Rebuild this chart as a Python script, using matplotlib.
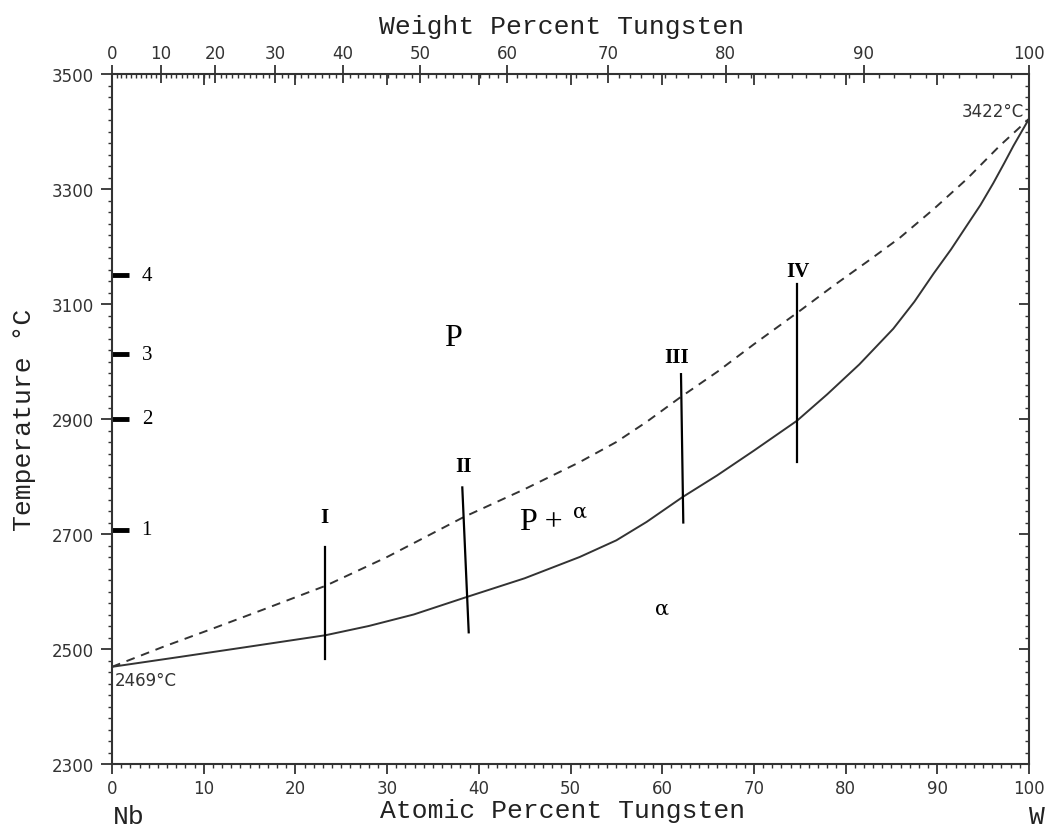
import numpy as np
import matplotlib
matplotlib.use('Agg')
import matplotlib.pyplot as plt
from matplotlib.ticker import MultipleLocator, FixedLocator, NullFormatter

# Nb-W phase diagram (atomic % W vs temperature)
liquidus_at = [0, 5.45, 10.9, 16.4, 23.3, 30, 38.3, 45, 51.0, 55, 58.3, 62.0, 66, 70, 75.0,
               78.7, 82.3, 85.9, 89.6, 93.2, 96.8, 100]
liquidus_T = [2469, 2503, 2535, 2568, 2610, 2660, 2729, 2778, 2825, 2860, 2895, 2938, 2982, 3030, 3088,
              3132, 3173, 3215, 3265, 3317, 3375, 3422]

solidus_at = [0, 7.3, 14.5, 23.3, 28, 32.9, 38.6, 45, 51.0, 55, 58.3, 62.2, 66, 70, 74.7,
              78, 81.5, 85.2, 87.5, 89.6, 91.5, 93.2, 94.7, 96.1, 97.3, 98.3, 99.2, 100]
solidus_T = [2469, 2486, 2503, 2524, 2540, 2560, 2590, 2623, 2660, 2689, 2721, 2764, 2802, 2845, 2897,
             2943, 2995, 3057, 3104, 3153, 3195, 3236, 3272, 3310, 3345, 3375, 3400, 3422]

# alloy compositions I-IV (vertical lines)
alloy_names = ['I', 'II', 'III', 'IV']
alloy_x_top = [23.2, 38.2, 62.05, 74.7]
alloy_x_bot = [23.2, 38.9, 62.3, 74.7]
alloy_T_top = [2677, 2781, 2978, 3135]
alloy_T_bot = [2483, 2529, 2720, 2825]
alloy_label_T = [2730, 2819, 3007, 3158]
alloy_label_x = [23.2, 38.3, 61.6, 74.8]

# temperature marks 1-4
mark_names = ['1', '2', '3', '4']
mark_T = [2707, 2900, 3013, 3150]

temp_ticks = [2300, 2500, 2700, 2900, 3100, 3300, 3500]

M_NB = 92.906
M_W = 183.84
wt_ticks = np.arange(0, 101, 10)
wt_minor = np.arange(0, 101, 1)


def wt_to_at(w):
    w = np.asarray(w, dtype=float)
    nw = w / M_W
    nnb = (100 - w) / M_NB
    return 100 * nw / (nw + nnb)


W, H = 1053, 828
fig = plt.figure(figsize=(W / 100, H / 100), dpi=100)
ax = fig.add_axes([112 / W, 1 - 765 / H, (1029 - 112) / W, (765 - 75) / H])

line_col = '#333333'
tick_font = dict(family='DejaVu Sans', size=12, color='#333333')

ax.plot(solidus_at, solidus_T, color=line_col, lw=1.4)
ax.plot(liquidus_at, liquidus_T, color=line_col, lw=1.4, linestyle=(0, (4.5, 3.5)))

for xt, xb, tt, tb in zip(alloy_x_top, alloy_x_bot, alloy_T_top, alloy_T_bot):
    ax.plot([xt, xb], [tt, tb], color='black', lw=1.6)
for name, x, t in zip(alloy_names, alloy_label_x, alloy_label_T):
    ax.text(x, t, name, ha='center', va='center', family='Liberation Serif',
            fontweight='bold', fontsize=15)

for name, t in zip(mark_names, mark_T):
    ax.plot([0, 1.9], [t, t], color='black', lw=3.5, solid_capstyle='butt', clip_on=False)
    ax.text(3.8, t, name, ha='center', va='center', family='Liberation Serif', fontsize=15)

ax.text(37.2, 3042, 'P', ha='center', va='center', family='Liberation Serif', fontsize=23)
ax.text(44.5, 2708, 'P + ', ha='left', va='baseline', family='Liberation Serif', fontsize=23)
ax.text(51.0, 2740, '\u03b1', ha='center', va='center', family='DejaVu Serif', fontsize=15)
ax.text(60.0, 2571, '\u03b1', ha='center', va='center', family='DejaVu Serif', fontsize=15)

ax.text(0.3, 2446, '2469\u00b0C', ha='left', va='center', **tick_font)
ax.text(99.4, 3436, '3422\u00b0C', ha='right', va='center', **tick_font)

ax.set_xlim(0, 100)
ax.set_ylim(2300, 3500)
ax.xaxis.set_major_locator(MultipleLocator(10))
ax.xaxis.set_minor_locator(MultipleLocator(1))
ax.yaxis.set_major_locator(FixedLocator(temp_ticks))
ax.yaxis.set_minor_locator(MultipleLocator(20))
ax.tick_params(which='major', direction='out', length=7, width=1.3, color=line_col, pad=4)
ax.tick_params(which='minor', direction='out', length=3, width=1.0, color=line_col)
ax.tick_params(axis='y', which='major', length=8, pad=5)
for lab in ax.get_xticklabels() + ax.get_yticklabels():
    lab.set_fontfamily('DejaVu Sans')
    lab.set_fontsize(12)
    lab.set_color('#333333')
for s in ax.spines.values():
    s.set_linewidth(1.5)
    s.set_color(line_col)

# right side: inward ticks
axr = ax.twinx()
axr.set_ylim(2300, 3500)
axr.yaxis.set_major_locator(FixedLocator(temp_ticks))
axr.yaxis.set_minor_locator(MultipleLocator(20))
axr.tick_params(which='major', direction='in', length=7, width=1.3, color=line_col, labelright=False)
axr.tick_params(which='minor', direction='in', length=3, width=1.0, color=line_col)

# top: weight percent axis
axw = ax.twiny()
axw.set_xlim(0, 100)
axw.xaxis.set_major_locator(FixedLocator(wt_to_at(wt_ticks)))
axw.xaxis.set_major_formatter(plt.FixedFormatter([str(v) for v in wt_ticks]))
axw.xaxis.set_minor_locator(FixedLocator(wt_to_at(wt_minor)))
axw.tick_params(which='major', direction='inout', length=13, width=1.3, color=line_col, pad=2)
axw.tick_params(which='minor', direction='in', length=3, width=1.0, color=line_col)
for lab in axw.get_xticklabels():
    lab.set_fontfamily('DejaVu Sans')
    lab.set_fontsize(12)
    lab.set_color('#333333')

# top: atomic percent inward ticks
axa = ax.twiny()
axa.set_xlim(0, 100)
axa.xaxis.set_major_locator(MultipleLocator(10))
axa.xaxis.set_major_formatter(NullFormatter())
axa.tick_params(which='major', direction='in', length=8, width=1.3, color=line_col)
for a in (axr, axw, axa):
    for s in a.spines.values():
        s.set_visible(False)

label_font = dict(family='Liberation Mono', fontsize=19, color='#222222')
fig.text(562 / W, 1 - 27 / H, 'Weight Percent Tungsten', ha='center', va='center', **label_font)
fig.text(563 / W, 1 - 811 / H, 'Atomic Percent Tungsten', ha='center', va='center', **label_font)
fig.text(24 / W, 1 - 420 / H, 'Temperature \u00b0C', ha='center', va='center', rotation=90, **label_font)
fig.text(113 / W, 1 - 817 / H, 'Nb', ha='left', va='center', **label_font)
fig.text(1037 / W, 1 - 817 / H, 'W', ha='center', va='center', **label_font)

fig.savefig('out.png', dpi=100)
